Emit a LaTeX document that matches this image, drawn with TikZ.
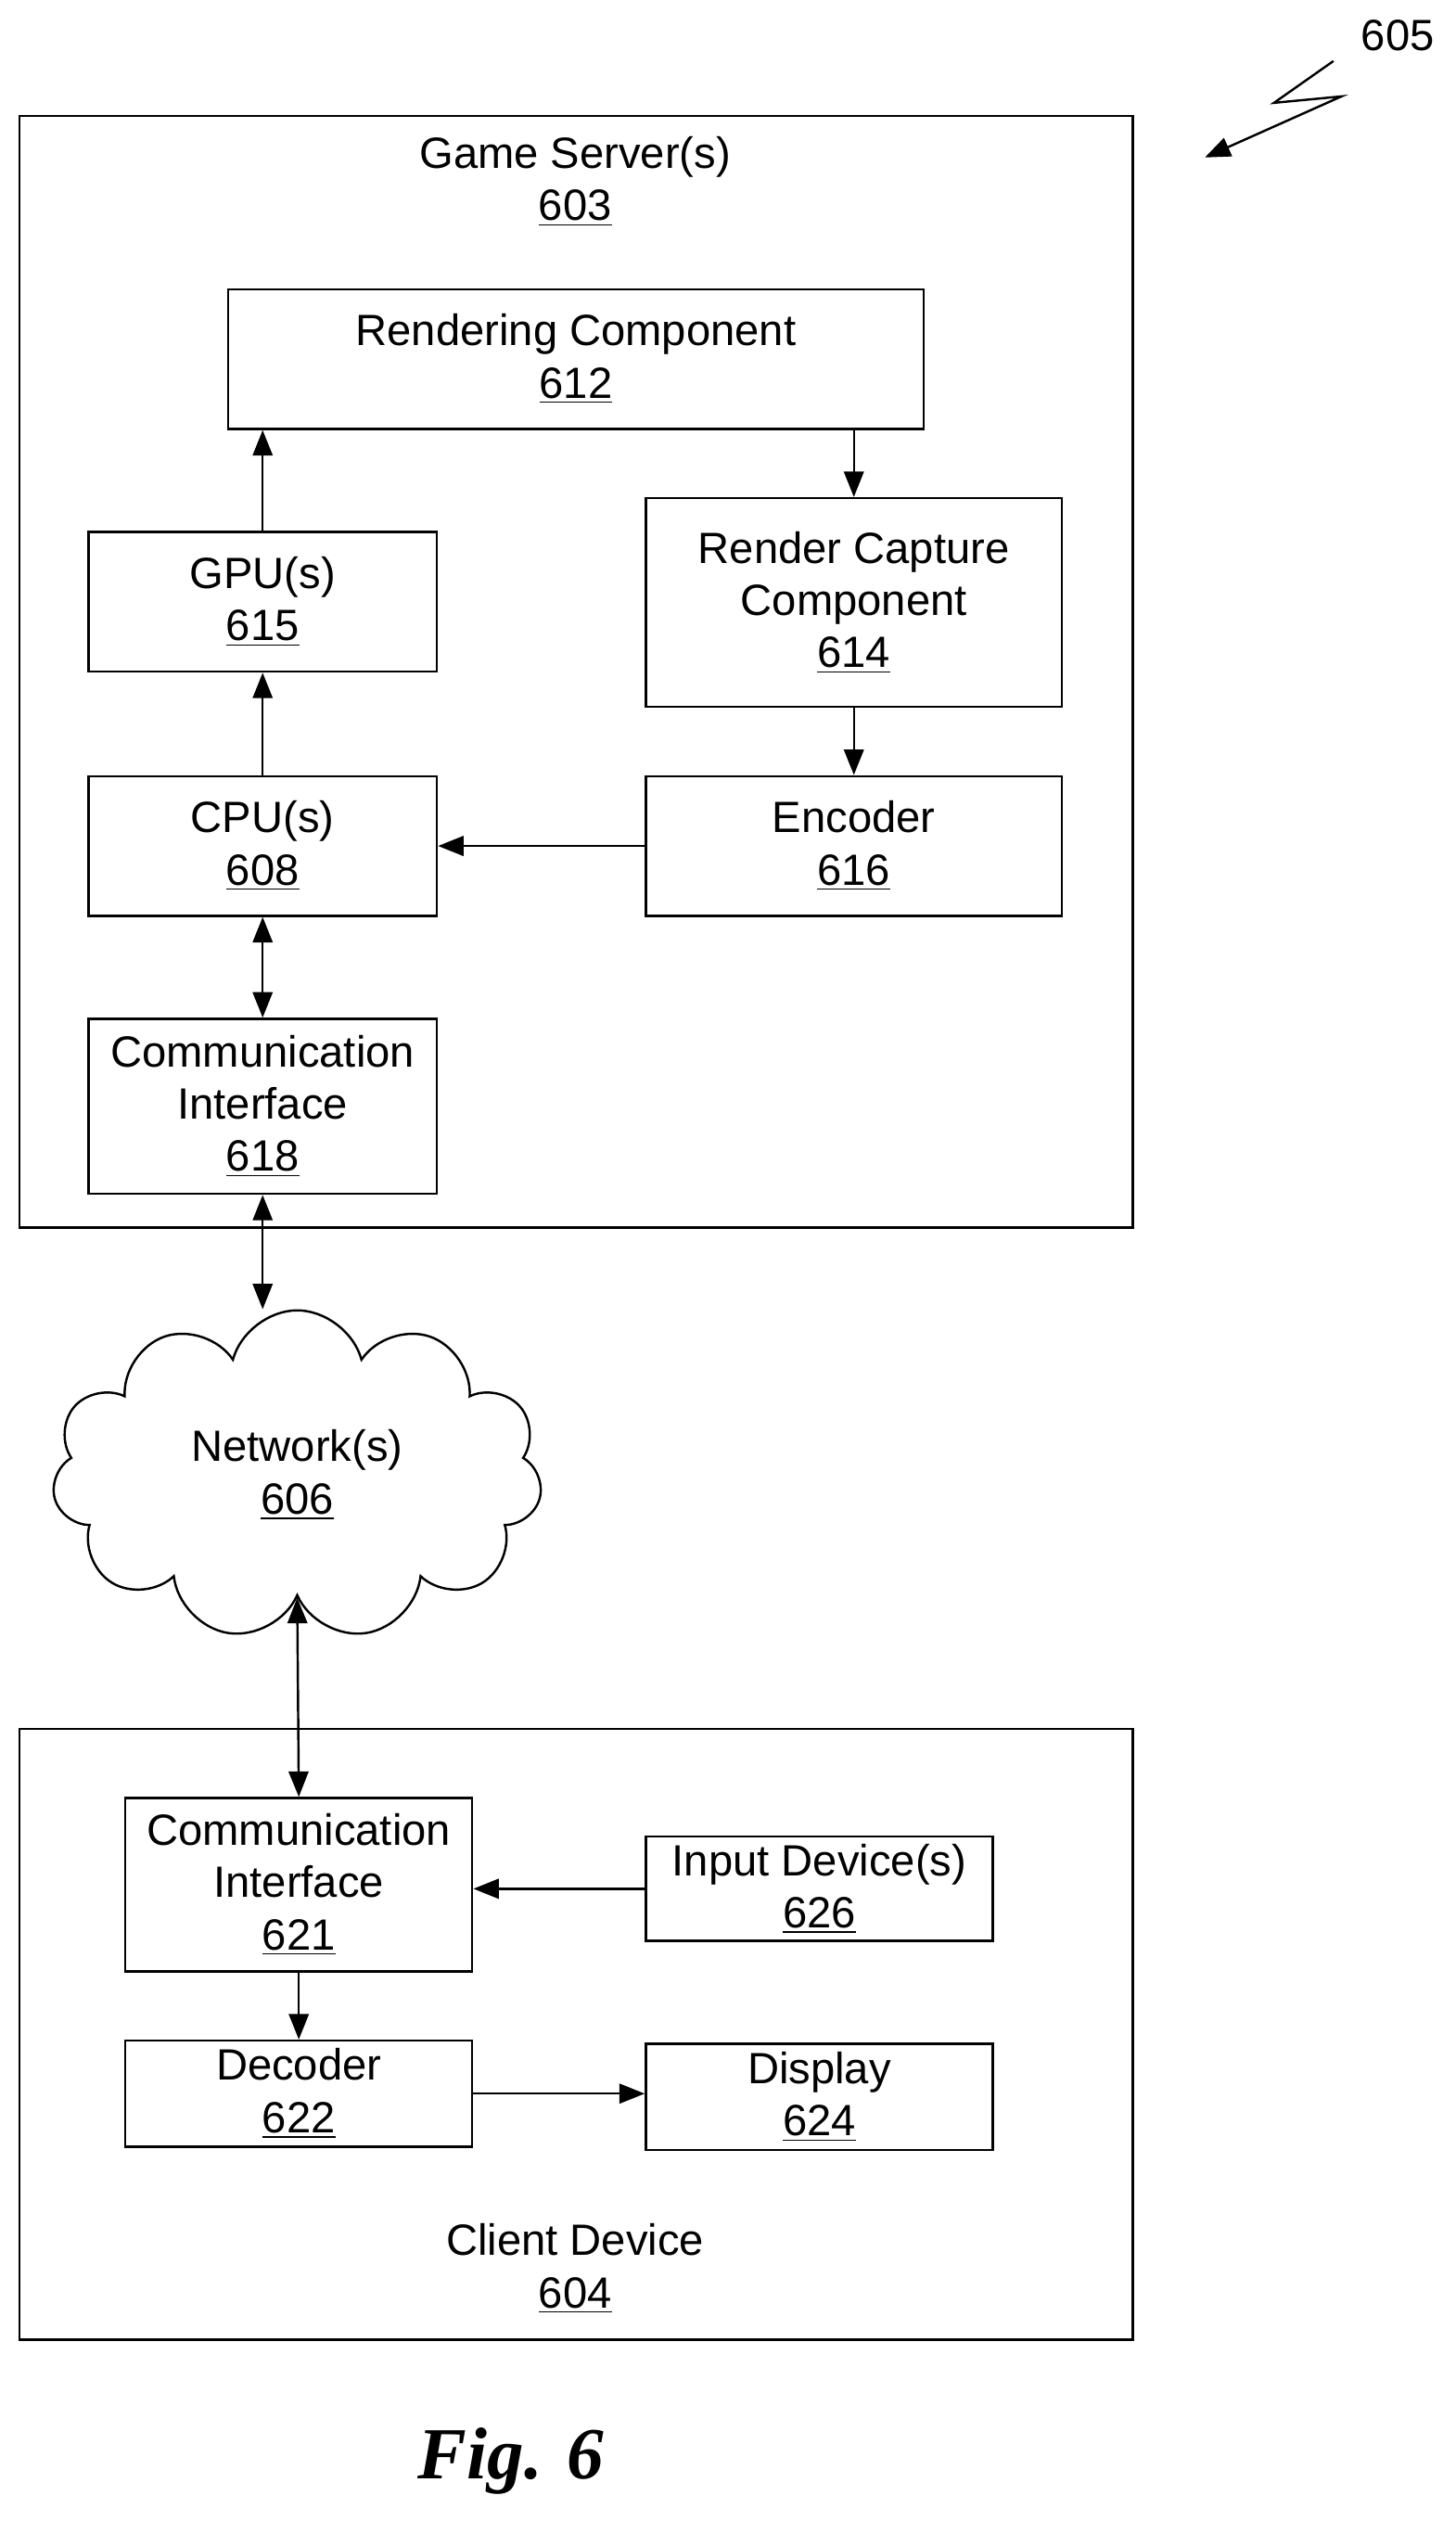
\documentclass[tikz,border=0pt]{standalone}
\usepackage{fontspec}
\setmainfont{Liberation Sans}
\newfontfamily\figfont{Liberation Serif}
\usetikzlibrary{arrows.meta,positioning,shapes.symbols}

\tikzset{
  blk/.style={draw,thick,align=center,inner sep=0pt,font=\fontsize{15.5}{18.5}\selectfont},
  frame/.style={draw,thick},
  lbl/.style={align=center,font=\fontsize{15.5}{18.5}\selectfont},
  arr/.style={thick,-{Triangle[length=9pt,width=7pt]}},
  darr/.style={thick,{Triangle[length=9pt,width=7pt]}-{Triangle[length=9pt,width=7pt]}}
}

\begin{document}
\begin{tikzpicture}[x=0.02cm,y=-0.02cm]
		\useasboundingbox (0,0) rectangle (906,1569);
		% server side
		\draw[frame] (12,72) rectangle (705,764);
		\node[lbl] (srvlbl) at (358,113) {Game Server(s)\\\underline{603}};
		\node[blk,minimum width=8.66cm,minimum height=1.74cm] (render) at (358.5,223.5) {Rendering Component\\\underline{612}};
		\node[blk,minimum width=4.34cm,minimum height=1.74cm] (gpu) at (163.5,374.5) {GPU(s)\\\underline{615}};
		\node[blk,minimum width=5.18cm,minimum height=2.6cm] (capture) at (531.5,375) {Render Capture\\Component\\\underline{614}};
		\node[blk,minimum width=4.34cm,minimum height=1.74cm] (cpu) at (163.5,526.5) {CPU(s)\\\underline{608}};
		\node[blk,minimum width=5.18cm,minimum height=1.74cm] (enc) at (531.5,526.5) {Encoder\\\underline{616}};
		\node[blk,minimum width=4.34cm,minimum height=2.18cm] (comm1) at (163.5,688.5) {Communication\\Interface\\\underline{618}};
		
		% network
		\node[cloud,draw,thick,cloud puffs=11,aspect=1.5,minimum width=6.1cm,minimum height=4.1cm,lbl] (net) at (185,918) {Network(s)\\\underline{606}};
		
		% client side
		\draw[frame] (12,1076) rectangle (705,1456);
		\node[lbl] (clilbl) at (358,1412) {Client Device\\\underline{604}};
		\node[blk,minimum width=4.32cm,minimum height=2.16cm] (comm2) at (186,1173) {Communication\\Interface\\\underline{621}};
		\node[blk,minimum width=4.32cm,minimum height=1.3cm] (input) at (510,1175.5) {Input Device(s)\\\underline{626}};
		\node[blk,minimum width=4.32cm,minimum height=1.32cm] (dec) at (186,1303) {Decoder\\\underline{622}};
		\node[blk,minimum width=4.32cm,minimum height=1.32cm] (disp) at (510,1305) {Display\\\underline{624}};
		
		\draw[arr] (gpu.north) -- (gpu.north |- render.south);
		\draw[arr] (capture.north |- render.south) -- (capture.north);
		\draw[arr] (capture.south) -- (enc.north);
		\draw[arr] (enc.west) -- (cpu.east);
		\draw[arr] (cpu.north) -- (gpu.south);
		\draw[darr] (cpu.south) -- (comm1.north);
		\draw[darr] (comm1.south) -- (comm1.south |- net.north);
		\draw[darr] (net.south) -- (comm2.north);
		\draw[arr] (input.west) -- (input.west -| comm2.east);
		\draw[arr] (comm2.south) -- (dec.north);
		\draw[arr] (dec.east) -- (dec.east -| disp.west);
		
		% reference mark and caption
		\node[lbl] (ref) at (870,22) {605};
		\coordinate (zz) at (830,38);
		\draw[arr] (zz) -- (793,64) -- (835,60) -- (750,98);
		\node[font=\figfont\bfseries\itshape\fontsize{26}{30}\selectfont] (fig) at (318,1532) {Fig. 6};
	\end{tikzpicture}
\end{document}
